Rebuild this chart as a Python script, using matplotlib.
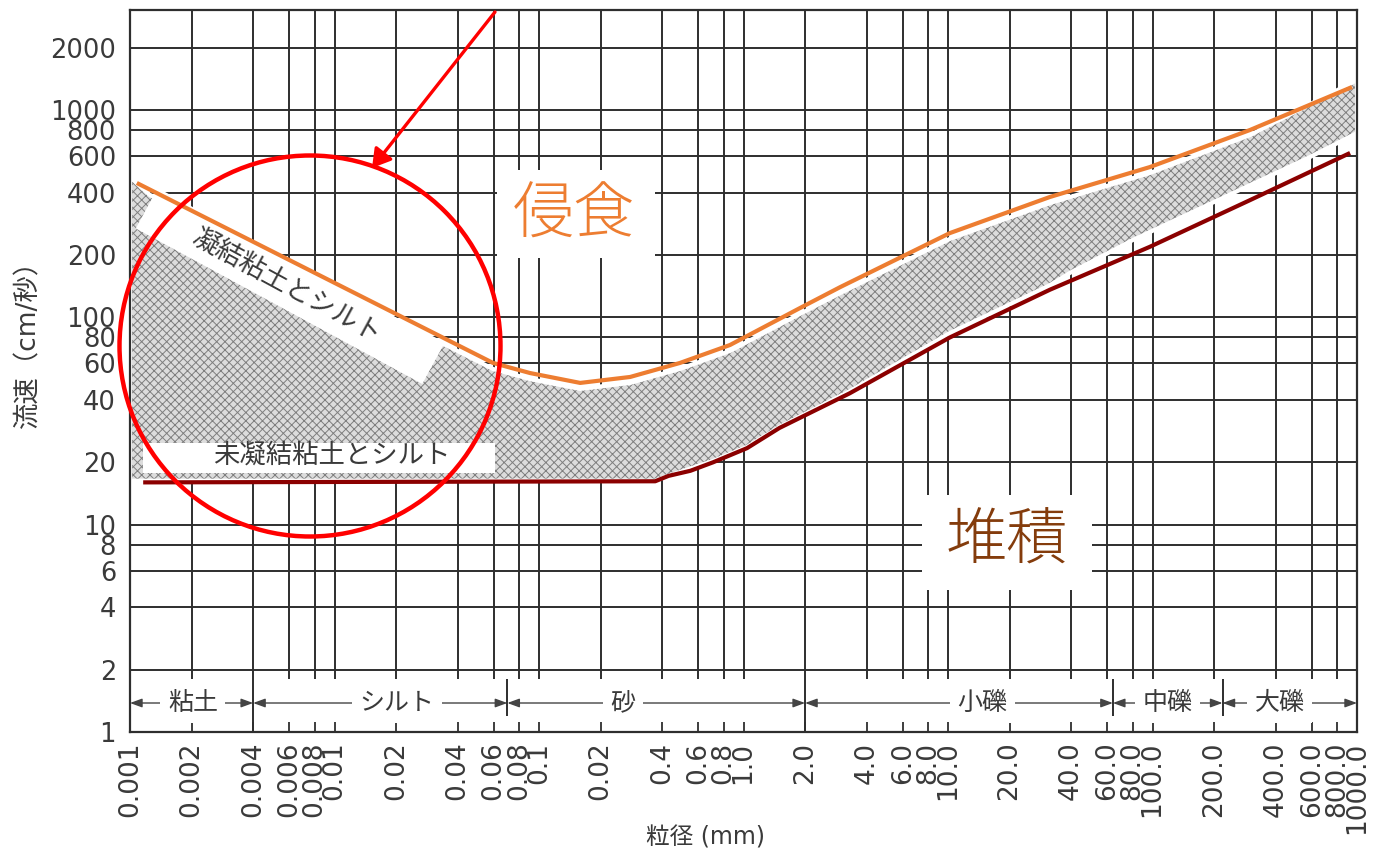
import numpy as np
import matplotlib
matplotlib.use("Agg")
import matplotlib.pyplot as plt
from matplotlib.patches import Polygon, Rectangle, Circle, FancyArrowPatch
from matplotlib.ticker import FixedLocator, FixedFormatter, NullLocator

plt.rcParams['font.family'] = ['DejaVu Sans', 'Noto Sans CJK JP']
plt.rcParams['hatch.linewidth'] = 0.7

# ---- data: grain size (mm) vs. flow velocity (cm/s) ----
erosion_d = [0.00108, 0.0596, 0.0904, 0.159, 0.279, 0.489, 0.859, 1.89, 2.97,
             10.2, 31.5, 97, 300, 945]
erosion_v = [445, 60.3, 53.9, 48.3, 51.6, 60.3, 73.6, 111, 140,
             255, 381, 531, 802, 1292]

deposition_d = [0.00116, 0.37, 0.43, 0.55, 0.71, 1.04, 1.5, 3.3, 10.2,
                31.5, 97, 300, 925]
deposition_v = [16.0, 16.2, 17.2, 18.2, 20.0, 23.4, 29.3, 43, 80,
                136, 219, 368, 621]

band_top_d = [0.001, 0.00125, 0.00785, 0.0596, 0.0904, 0.159, 0.279, 0.489,
              0.859, 1.89, 2.97, 10.2, 31.5, 97, 300, 1000]
band_top_v = [476, 390, 155, 56.4, 50.4, 45.2, 48.3, 56.4,
              68.9, 104, 131, 239, 356, 497, 758, 1397]
band_bottom_d = [0.001, 0.37, 0.43, 0.71, 1.04, 1.5, 3.3, 10.2, 31.5,
                 39.5, 80, 248, 590, 1000]
band_bottom_v = [16.3, 16.3, 17.2, 20.3, 23.7, 29.6, 44, 84, 143,
                 164, 236, 398, 594, 775]

x_ticks = [0.001, 0.002, 0.004, 0.006, 0.008, 0.01, 0.02, 0.04, 0.06, 0.08,
           0.1, 0.2, 0.4, 0.6, 0.8, 1, 2, 4, 6, 8, 10, 20, 40, 60, 80,
           100, 200, 400, 600, 800, 1000]
x_tick_labels = ['0.001', '0.002', '0.004', '0.006', '0.008', '0.01', '0.02',
                 '0.04', '0.06', '0.08', '0.1', '0.02', '0.4', '0.6', '0.8',
                 '1.0', '2.0', '4.0', '6.0', '8.0', '10.0', '20.0', '40.0',
                 '60.0', '80.0', '100.0', '200.0', '400.0', '600.0', '800.0',
                 '1000.0']
y_ticks = [1, 2, 4, 6, 8, 10, 20, 40, 60, 80, 100, 200, 400, 600, 800, 1000, 2000]

classes = ['粘土', 'シルト', '砂', '小礫', '中礫', '大礫']
class_edges = [0.001, 0.004, 0.07, 2.0, 64, 220, 1000]
class_label_d = [0.00203, 0.0202, 0.258, 14.7, 118, 420]

# ---- figure ----
W, H = 1376, 857
fig = plt.figure(figsize=(W / 100, H / 100), dpi=100)
ax = fig.add_axes([130 / W, 1 - 732 / H, 1227 / W, 722 / H])
ax.set_xscale('log')
ax.set_yscale('log')
X_MIN, X_MAX, Y_MIN, Y_MAX = 0.001, 1000, 1, 3040
ax.set_xlim(X_MIN, X_MAX)
ax.set_ylim(Y_MIN, Y_MAX)

grid_c = '#2e2e2e'
text_c = '#3a3a3a'
band_y = 1.38

# grid
ax.vlines(x_ticks, 1.8, Y_MAX, colors=grid_c, lw=1.4, zorder=0.5)
ax.vlines([0.004, 2.0], Y_MIN, 1.8, colors=grid_c, lw=1.4, zorder=0.5)
ax.vlines(class_edges[2:3] + class_edges[4:6], 1.2, 1.8, colors=grid_c, lw=1.4, zorder=0.5)
ax.hlines(y_ticks[1:], X_MIN, X_MAX, colors=grid_c, lw=1.4, zorder=0.5)

# shaded transition band
poly_d = band_top_d + band_bottom_d[::-1]
poly_v = band_top_v + band_bottom_v[::-1]
ax.fill(poly_d, poly_v, facecolor='#dcdcdc', edgecolor='none', zorder=1)
ax.fill(poly_d, poly_v, facecolor='none', edgecolor='#7e7e7e', lw=0,
        hatch='xxxx', zorder=1.1)
ax.fill(poly_d, poly_v, facecolor='none', edgecolor='white', lw=3, zorder=1.2)


def px(x, y):
    """pixel position (y from the top) -> figure fraction"""
    return (x / W, 1 - y / H)


def white_box(x0, y0, x1, y1):
    r = Rectangle(px(x0, y1), (x1 - x0) / W, (y1 - y0) / H,
                  transform=fig.transFigure, facecolor='white',
                  edgecolor='none', zorder=1.5)
    ax.add_patch(r)


# rotated label strip for consolidated clay and silt
a = np.deg2rad(28.5)
cx, cy, L, Wd = 290, 286, 326, 46
u = np.array([np.cos(a), np.sin(a)])
n = np.array([-np.sin(a), np.cos(a)])
c = np.array([cx, cy])
corners = [c - L / 2 * u - Wd / 2 * n, c + L / 2 * u - Wd / 2 * n,
           c + L / 2 * u + Wd / 2 * n, c - L / 2 * u + Wd / 2 * n]
strip = Polygon([px(*p) for p in corners], closed=True,
                transform=fig.transFigure, facecolor='white',
                edgecolor='none', zorder=1.5)
ax.add_patch(strip)
fig.text(*px(286, 286), '凝結粘土とシルト', rotation=-28.5,
         rotation_mode='anchor', ha='center', va='center',
         fontsize=19, color=text_c, zorder=5)

white_box(143, 443, 495, 473)
fig.text(*px(332, 456), '未凝結粘土とシルト', ha='center', va='center',
         fontsize=19, color=text_c, zorder=5)

# threshold curves
ax.plot(erosion_d, erosion_v, color='#ED7D31', lw=3.0, zorder=3,
        solid_capstyle='butt', solid_joinstyle='round')
ax.plot(deposition_d, deposition_v, color='#8B0000', lw=3.0, zorder=3,
        solid_capstyle='butt', solid_joinstyle='round')

# region labels
white_box(497, 170, 655, 258)
fig.text(*px(574, 216), '侵食', ha='center', va='center', fontsize=44,
         fontweight='light', color='#ED7D31')
white_box(922, 495, 1092, 590)
fig.text(*px(1007, 542), '堆積', ha='center', va='center', fontsize=44,
         fontweight='light', color='#843C0C')

# grain-size classes
for i, name in enumerate(classes):
    ax.annotate('', xy=(class_edges[i + 1], band_y), xytext=(class_edges[i], band_y),
                arrowprops=dict(arrowstyle='<|-|>,head_length=0.6,head_width=0.22',
                                lw=1.0, color='#444444', shrinkA=0, shrinkB=0,
                                mutation_scale=12), zorder=2)
    ax.text(class_label_d[i], band_y, name, ha='center', va='center',
            fontsize=18, color=text_c, zorder=4,
            bbox=dict(boxstyle='square,pad=0.3', facecolor='white',
                      edgecolor='none'))

# axes and ticks
ax.xaxis.set_major_locator(FixedLocator(x_ticks))
ax.xaxis.set_major_formatter(FixedFormatter(x_tick_labels))
ax.xaxis.set_minor_locator(NullLocator())
ax.yaxis.set_major_locator(FixedLocator(y_ticks))
ax.yaxis.set_major_formatter(FixedFormatter([str(v) for v in y_ticks]))
ax.yaxis.set_minor_locator(NullLocator())
ax.tick_params(axis='x', direction='in', length=7, width=1.3, color=grid_c,
               labelsize=19, labelcolor=text_c, pad=7, labelrotation=90)
ax.tick_params(axis='y', length=0, labelsize=18.5, labelcolor=text_c, pad=10)
for s in ax.spines.values():
    s.set_color(grid_c)
    s.set_linewidth(1.6)

fig.text(*px(28, 337), '流速（cm/秒）', rotation=90, ha='center', va='center',
         fontsize=19, color=text_c)
fig.text(*px(706, 838), '粒径 (mm)', ha='center', va='center',
         fontsize=17, color=text_c)

# highlight circle and pointer
circ = Circle((310 / 100, (H - 346) / 100), 1.905, transform=fig.dpi_scale_trans,
              facecolor='none', edgecolor='#FF0000', lw=3.2, zorder=10)
fig.add_artist(circ)
arr = FancyArrowPatch((495 / 100, (H - 12) / 100), (372 / 100, (H - 168) / 100),
                      transform=fig.dpi_scale_trans, color='#FF0000', lw=2.4,
                      arrowstyle='-|>,head_length=0.5,head_width=0.3',
                      mutation_scale=22, shrinkA=0, shrinkB=0, zorder=10)
fig.add_artist(arr)

fig.savefig('out.png', dpi=100, facecolor='white')
